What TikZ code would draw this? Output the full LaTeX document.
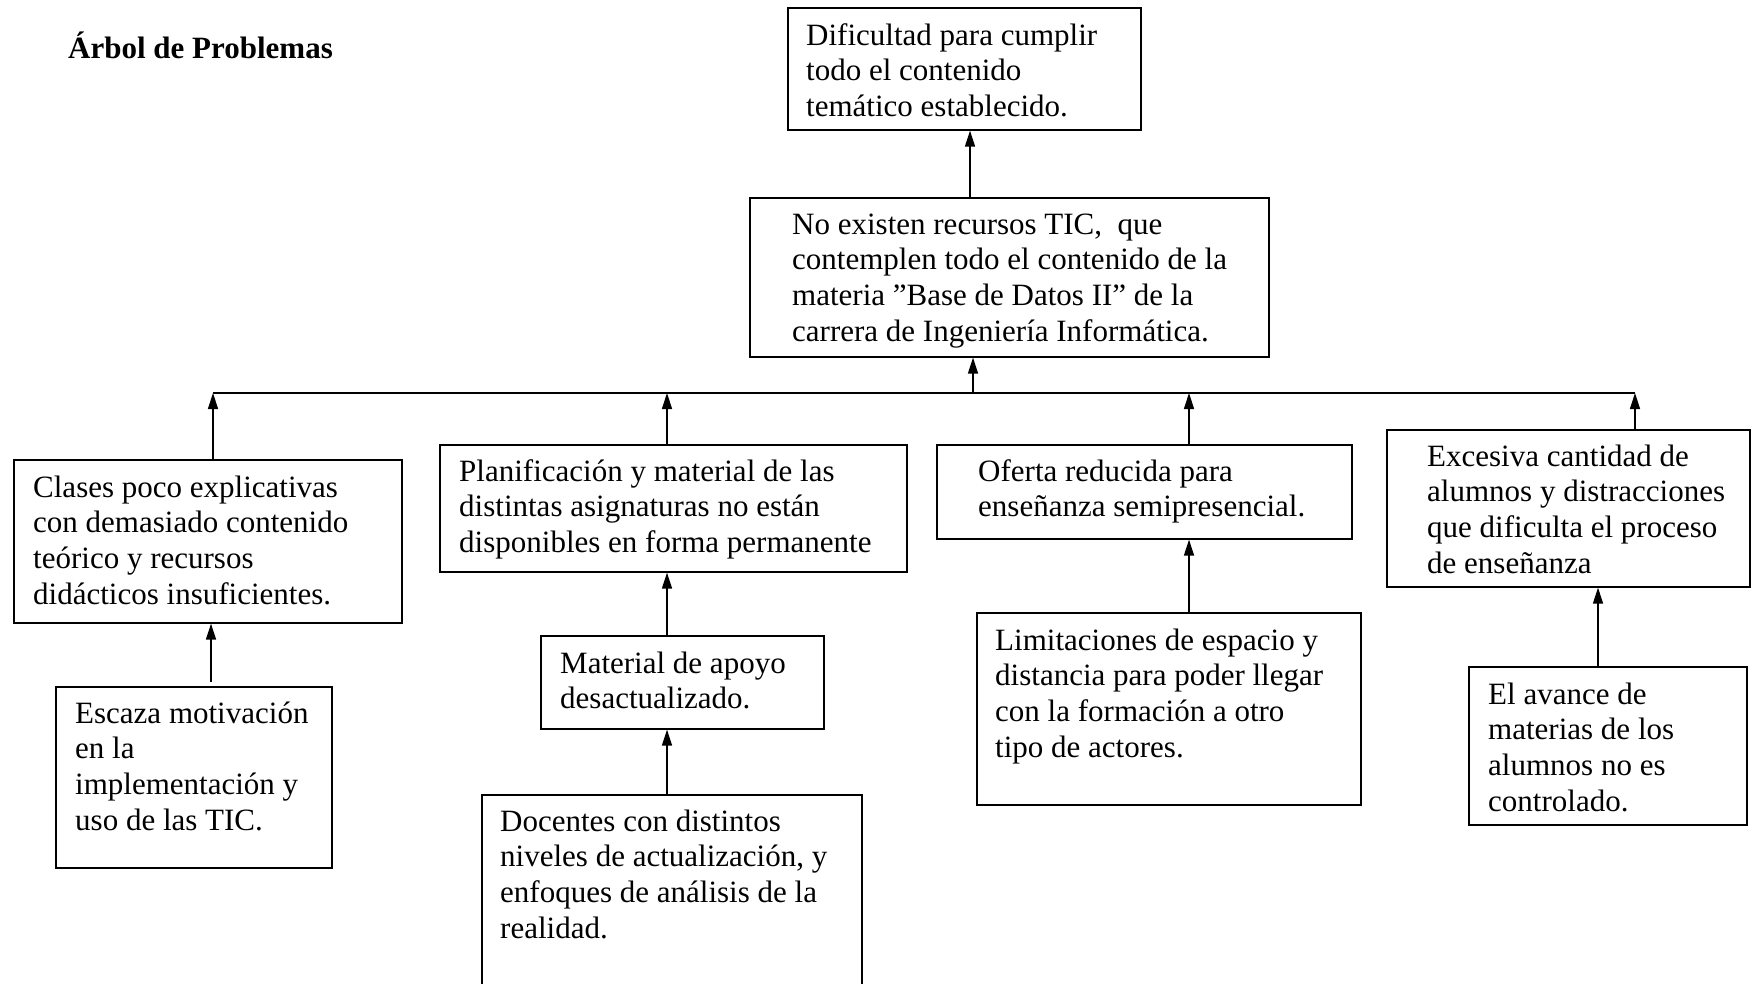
\documentclass[tikz,border=0pt]{standalone}
\usepackage{fontspec}
\setmainfont{Liberation Serif}
\usetikzlibrary{arrows.meta}
% multi-line text whose reference point is the first baseline
\newcommand{\ml}[1]{\begin{tabular}[t]{@{}l@{}}#1\end{tabular}}
\begin{document}
\begin{tikzpicture}[x=1pt,y=-1pt,
  box/.style={draw=black, line width=1.6pt, rectangle, inner sep=0pt, anchor=north west},
  txt/.style={anchor=base west, inner sep=0pt, font=\fontsize{31}{35.7}\selectfont},
  ttl/.style={anchor=base west, inner sep=0pt, font=\fontsize{31}{35.7}\selectfont\bfseries},
  link/.style={line width=1.4pt},
  arr/.style={line width=1.4pt, -{Triangle[width=10pt,length=16pt]}}]
\useasboundingbox (0,0) rectangle (1751,983);
\clip (0,0) rectangle (1751,983);

% title
\node[ttl] (title) at (68,58) {Árbol de Problemas};

% effect and central problem
\node[box, minimum width=353pt, minimum height=122pt] (b1) at (787,7) {};
\node[txt] (t1) at (806,45) {\ml{Dificultad para cumplir\\todo el contenido\\temático establecido.}};

\node[box, minimum width=519pt, minimum height=159pt] (b2) at (749,197) {};
\node[txt] (t2) at (792,234) {\ml{No existen recursos TIC,~ que\\contemplen todo el contenido de la\\materia ”Base de Datos II” de la\\carrera de Ingeniería Informática.}};

% direct causes
\node[box, minimum width=388pt, minimum height=163pt] (bA) at (13,459) {};
\node[txt] (tA) at (33,497) {\ml{Clases poco explicativas\\con demasiado contenido\\teórico y recursos\\didácticos insuficientes.}};

\node[box, minimum width=467pt, minimum height=127pt] (bB) at (439,444) {};
\node[txt] (tB) at (459,481) {\ml{Planificación y material de las\\distintas asignaturas no están\\disponibles en forma permanente}};

\node[box, minimum width=415pt, minimum height=94pt] (bC) at (936,444) {};
\node[txt] (tC) at (978,481) {\ml{Oferta reducida para\\enseñanza semipresencial.}};

\node[box, minimum width=363pt, minimum height=157pt] (bD) at (1386,429) {};
\node[txt] (tD) at (1427,466) {\ml{Excesiva cantidad de\\alumnos y distracciones\\que dificulta el proceso\\de enseñanza}};

% underlying causes
\node[box, minimum width=276pt, minimum height=181pt] (bA2) at (55,686) {};
\node[txt] (tA2) at (75,723) {\ml{Escaza motivación\\en la\\implementación y\\uso de las TIC.}};

\node[box, minimum width=283pt, minimum height=93pt] (bB2) at (540,635) {};
\node[txt] (tB2) at (560,673) {\ml{Material de apoyo\\desactualizado.}};

\node[box, minimum width=380pt, minimum height=220pt] (bB3) at (481,794) {};
\node[txt] (tB3) at (500,831) {\ml{Docentes con distintos\\niveles de actualización, y\\enfoques de análisis de la\\realidad.}};

\node[box, minimum width=384pt, minimum height=192pt] (bC2) at (976,612) {};
\node[txt] (tC2) at (995,650) {\ml{Limitaciones de espacio y\\distancia para poder llegar\\con la formación a otro\\tipo de actores.}};

\node[box, minimum width=278pt, minimum height=158pt] (bD2) at (1468,666) {};
\node[txt] (tD2) at (1488,704) {\ml{El avance de\\materias de los\\alumnos no es\\controlado.}};

% connector positions
\coordinate (x1) at (970,0);
\coordinate (j0) at (973,393);
\coordinate (jA) at (213,393);
\coordinate (jB) at (667,393);
\coordinate (jC) at (1189,393);
\coordinate (jD) at (1635,393);
\coordinate (xA) at (211,0);
\coordinate (xD) at (1598,0);

% central problem to effect
\draw[arr] (x1 |- b2.north) -- (x1 |- b1.south);
% bar collecting the direct causes
\draw[link] (jA) -- (jD);
\draw[arr] (j0) -- (j0 |- b2.south);
\draw[arr] (jA |- bA.north) -- (jA);
\draw[arr] (jB |- bB.north) -- (jB);
\draw[arr] (jC |- bC.north) -- (jC);
\draw[arr] (jD |- bD.north) -- (jD);

% underlying causes to direct causes
\draw[arr] ([yshift=4pt]xA |- bA2.north) -- (xA |- bA.south);
\draw[arr] (jB |- bB2.north) -- (jB |- bB.south);
\draw[arr] (jB |- bB3.north) -- (jB |- bB2.south);
\draw[arr] (jC |- bC2.north) -- (jC |- bC.south);
\draw[arr] (xD |- bD2.north) -- (xD |- bD.south);
\end{tikzpicture}
\end{document}
